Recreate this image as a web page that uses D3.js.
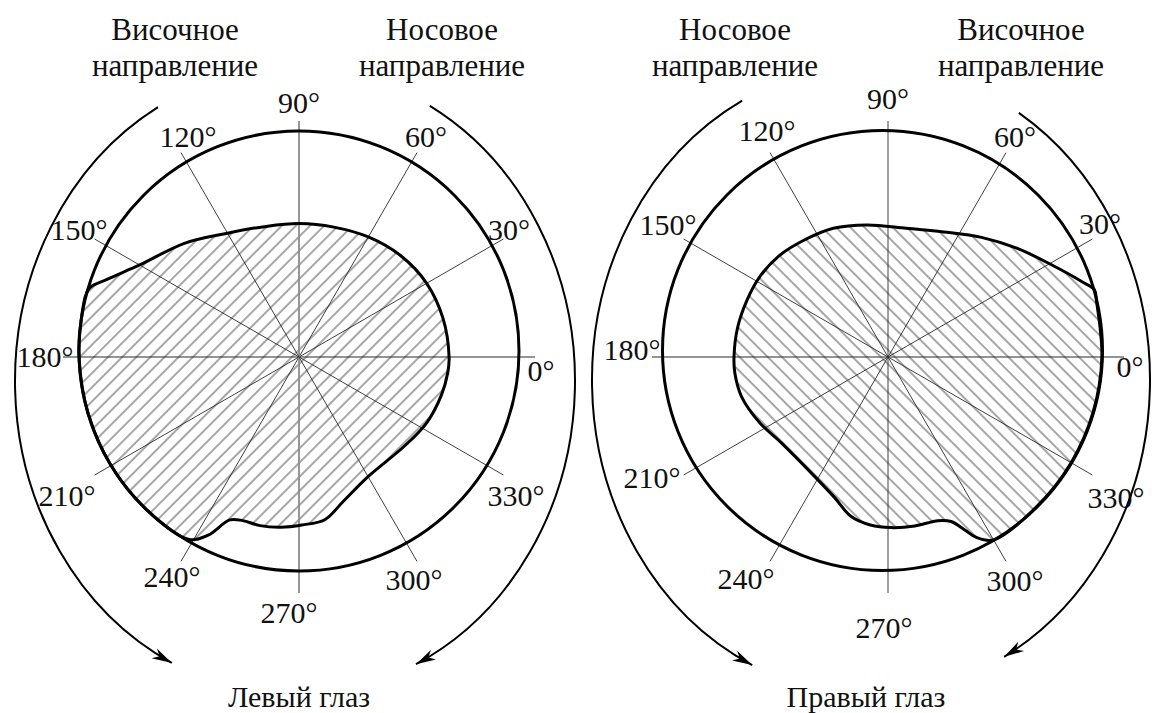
<!DOCTYPE html>
<html>
<head>
<meta charset="utf-8">
<script src="https://cdn.jsdelivr.net/npm/d3@7"></script>
<style>
  body { margin: 0; background: #fff; }
  text { font-family: "Liberation Serif", "DejaVu Serif", serif; fill: #111; }
</style>
</head>
<body>
<div id="chart"></div>
<script>
// ---- data ----
const tickAngles = [0, 30, 60, 90, 120, 150, 180, 210, 240, 270, 300, 330];
const tickLabels = ['0°', '30°', '60°', '90°', '120°', '150°', '180°', '210°', '240°', '270°', '300°', '330°'];

// field boundary, degrees of eccentricity (outer circle = 90)
const leftEyeAngles = [0, 15, 30, 45, 60, 75, 90, 105, 120, 135, 150, 158, 162, 170, 180, 195, 210, 225, 239, 243, 247, 251, 257, 264, 271, 279, 287, 300, 320, 333, 345, 354];
const leftEyeValues = [61.4, 61.0, 60.3, 58.7, 56.7, 55.0, 54.6, 55.2, 58.5, 65.9, 75.3, 84.7, 90.4, 90.4, 90.0, 89.3, 88.8, 88.3, 87.1, 81.8, 72.4, 70.8, 70.8, 70.0, 68.7, 67.4, 61.8, 56.5, 56.5, 58.8, 60.3, 61.2];

const rightEyeAngles = [0, 15, 18, 21, 30, 40, 52, 66, 82, 99, 113, 126, 137, 148, 158, 169, 180, 186, 195, 207, 219, 237, 249, 257, 264, 271, 279, 287, 291, 294, 296, 300, 315, 330, 345];
const rightEyeValues = [87.5, 88.3, 88.8, 85.4, 76.3, 69.1, 62.1, 56.0, 53.2, 54.7, 57.2, 58.9, 60.8, 61.9, 62.2, 62.7, 63.0, 63.0, 62.1, 59.0, 56.0, 57.0, 61.4, 67.0, 69.1, 69.8, 70.0, 70.0, 72.1, 77.6, 82.0, 86.4, 86.3, 86.5, 86.9];

const headTemporal = ['Височное', 'направление'];
const headNasal = ['Носовое', 'направление'];
const eyeTitles = ['Левый глаз', 'Правый глаз'];

// ---- layout ----
const width = 1152, height = 713;
const rad = d => d * Math.PI / 180;
const r = d3.scaleLinear().domain([0, 90]).range([0, 220]);
const spokeLen = 236;
const labelR = 254;

const svg = d3.select('#chart').append('svg')
  .attr('width', width)
  .attr('height', height);

const defs = svg.append('defs');
defs.append('marker')
  .attr('id', 'arrow')
  .attr('viewBox', '-20 -6 22 12')
  .attr('markerUnits', 'userSpaceOnUse')
  .attr('markerWidth', 22)
  .attr('markerHeight', 12)
  .attr('refX', 0)
  .attr('refY', 0)
  .attr('orient', 'auto')
  .append('path')
  .attr('d', 'M0,0 L-20,-5.5 L-14,0 L-20,5.5 Z')
  .attr('fill', '#000');

function hatch(id, angle) {
  const p = defs.append('pattern')
    .attr('id', id)
    .attr('patternUnits', 'userSpaceOnUse')
    .attr('width', 10)
    .attr('height', 10)
    .attr('patternTransform', `rotate(${angle})`);
  p.append('line')
    .attr('x1', 5).attr('y1', -2)
    .attr('x2', 5).attr('y2', 12)
    .attr('stroke', '#3a3a3a')
    .attr('stroke-width', 0.9);
}
hatch('hatchL', 45);
hatch('hatchR', -45);

const charts = [
  {
    cx: 299, cy: 357, circle: [0, -6], hatchId: 'hatchL',
    angles: leftEyeAngles, values: leftEyeValues,
    arcs: { cx: -4, cy: 24, rx: 280, ry: 314, left: [119.3, 243.9], right: [61.2, -64.4] },
    heads: [{ lines: headTemporal, x: -124 }, { lines: headNasal, x: 143 }],
    title: eyeTitles[0], titleX: 0,
    nudge: { 120: [16, 0], 30: [-10, 0], 210: [-12, 12], 330: [-3, 12], 300: [-12, 3], 270: [-10, 2], 0: [-12, 14] },
    vGray: true
  },
  {
    cx: 888, cy: 357, circle: [-5.5, -6.5], hatchId: 'hatchR',
    angles: rightEyeAngles, values: rightEyeValues,
    arcs: { cx: -17, cy: 23, rx: 279, ry: 315, left: [117.5, 244.8], right: [58, -61.5] },
    heads: [{ lines: headNasal, x: -153 }, { lines: headTemporal, x: 133 }],
    title: eyeTitles[1], titleX: -22,
    nudge: { 90: [0, -4], 120: [6, -6], 150: [0, -5], 30: [-8, -6], 180: [-2, -7], 0: [-12, 10], 210: [-16, -6], 330: [8, 14], 240: [-15, 2], 270: [-4, 17], 300: [0, 4] },
    vGray: false
  }
];

const radial = d3.lineRadial()
  .angle(d => rad(90 - d[0]))
  .radius(d => r(d[1]))
  .curve(d3.curveCatmullRomClosed.alpha(0.5));

charts.forEach(c => {
  const g = svg.append('g').attr('transform', `translate(${c.cx},${c.cy})`);
  const field = c.angles.map((a, i) => [a, c.values[i]]);
  const nd = d => c.nudge[d] || [0, 0];

  // hatched field
  g.append('path')
    .attr('d', radial(field))
    .attr('fill', `url(#${c.hatchId})`)
    .attr('stroke', 'none');

  // spokes
  g.selectAll('.spoke')
    .data(tickAngles)
    .enter()
    .append('line')
    .attr('class', 'spoke')
    .attr('x1', 0).attr('y1', 0)
    .attr('x2', d => spokeLen * Math.cos(rad(d)))
    .attr('y2', d => -spokeLen * Math.sin(rad(d)))
    .attr('stroke', d => (c.vGray && (d === 90 || d === 270)) ? '#8c8c8c' : '#2a2a2a')
    .attr('stroke-width', d => (c.vGray && (d === 90 || d === 270)) ? 1.8 : (d === 0 || d === 180 ? 1.2 : 0.9));

  // outer circle (90)
  g.append('circle')
    .attr('cx', c.circle[0])
    .attr('cy', c.circle[1])
    .attr('r', r(90))
    .attr('fill', 'none')
    .attr('stroke', '#000')
    .attr('stroke-width', 3);

  // field boundary
  g.append('path')
    .attr('d', radial(field))
    .attr('fill', 'none')
    .attr('stroke', '#000')
    .attr('stroke-width', 3)
    .attr('stroke-linejoin', 'round');

  // angle labels
  g.selectAll('.tick')
    .data(tickAngles)
    .enter()
    .append('text')
    .attr('class', 'tick')
    .attr('x', d => labelR * Math.cos(rad(d)) + nd(d)[0])
    .attr('y', d => -labelR * Math.sin(rad(d)) + nd(d)[1])
    .attr('dy', '0.34em')
    .attr('text-anchor', 'middle')
    .style('font-size', '30px')
    .text((d, i) => tickLabels[i]);

  // direction arcs with arrows
  const a = c.arcs;
  const pt = t => [a.cx + a.rx * Math.cos(rad(t)), a.cy - a.ry * Math.sin(rad(t))];
  const arcPath = (from, to, sweep) => {
    const p0 = pt(from), p1 = pt(to);
    return `M${p0[0]},${p0[1]} A${a.rx},${a.ry} 0 0 ${sweep} ${p1[0]},${p1[1]}`;
  };
  g.append('path')
    .attr('d', arcPath(a.left[0], a.left[1], 0))
    .attr('fill', 'none')
    .attr('stroke', '#000')
    .attr('stroke-width', 2)
    .attr('marker-end', 'url(#arrow)');
  g.append('path')
    .attr('d', arcPath(a.right[0], a.right[1], 1))
    .attr('fill', 'none')
    .attr('stroke', '#000')
    .attr('stroke-width', 2)
    .attr('marker-end', 'url(#arrow)');

  // headings
  c.heads.forEach(h => {
    g.append('text')
      .attr('x', h.x)
      .attr('y', 40 - c.cy)
      .attr('text-anchor', 'middle')
      .style('font-size', '31px')
      .text(h.lines[0]);
    g.append('text')
      .attr('x', h.x)
      .attr('y', 76 - c.cy)
      .attr('text-anchor', 'middle')
      .style('font-size', '31px')
      .text(h.lines[1]);
  });

  // eye title
  g.append('text')
    .attr('x', c.titleX)
    .attr('y', 707 - c.cy)
    .attr('text-anchor', 'middle')
    .style('font-size', '30px')
    .text(c.title);
});
</script>
</body>
</html>
